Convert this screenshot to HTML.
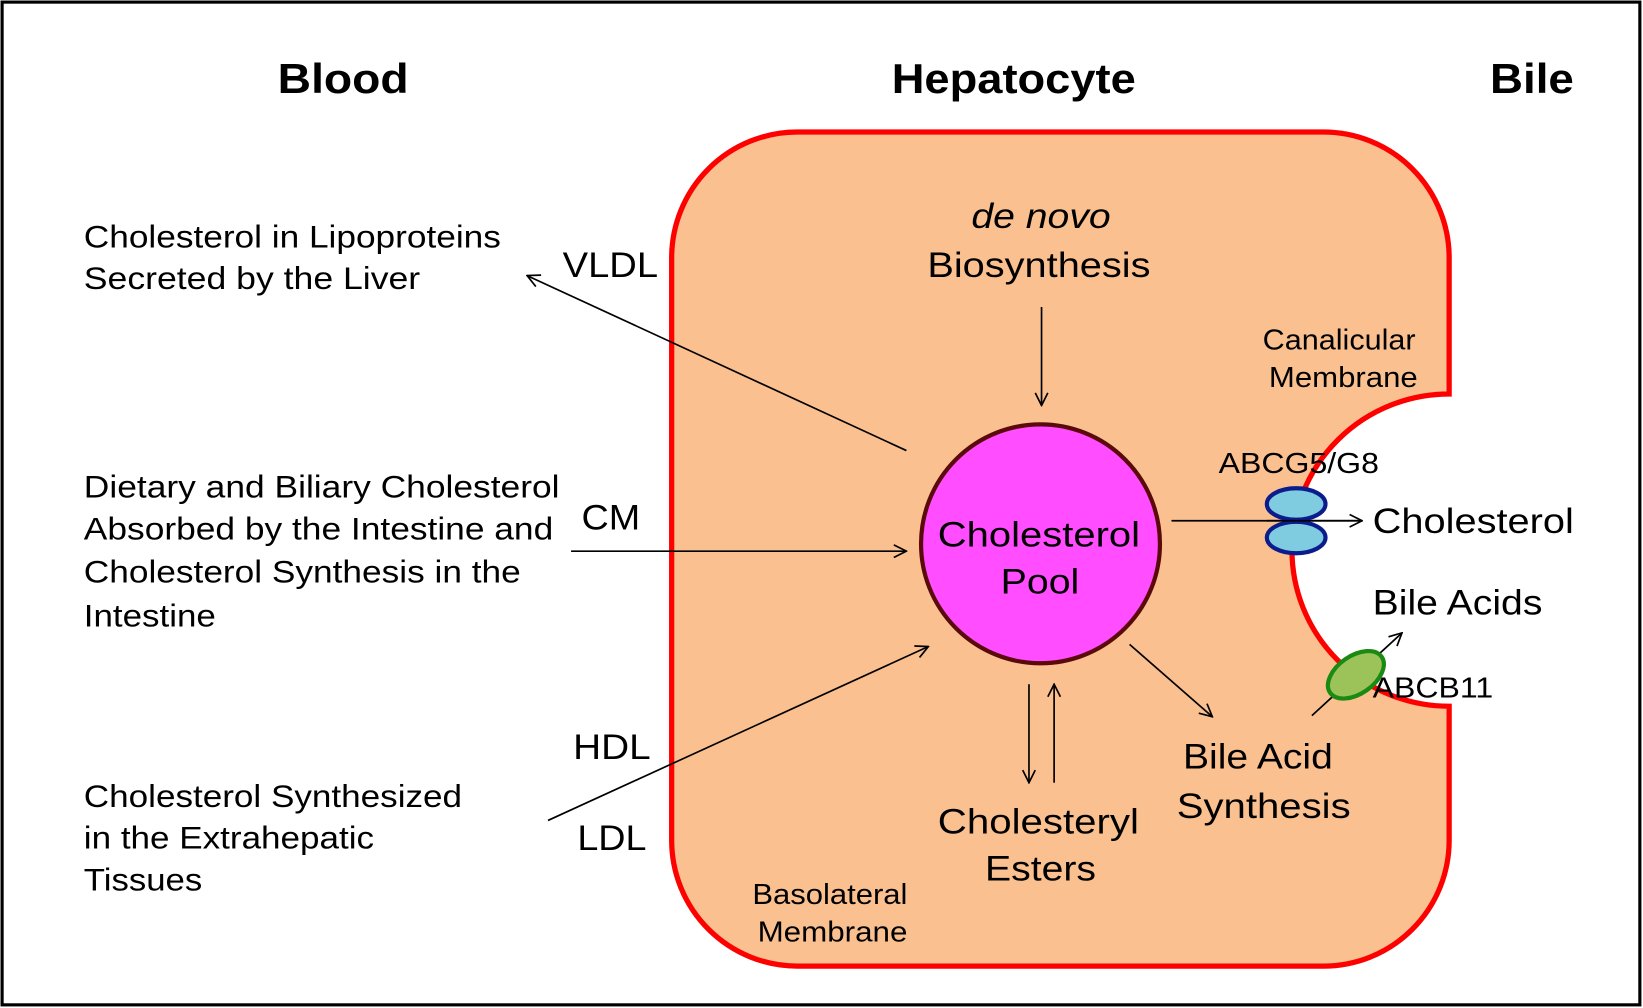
<!DOCTYPE html>
<html><head><meta charset="utf-8"><style>
html,body{margin:0;padding:0;background:#fff;}
svg{display:block;}
text{font-family:"Liberation Sans",Arial,sans-serif;fill:#000;}
</style></head><body>
<svg width="1643" height="1008" viewBox="0 0 1568 962" preserveAspectRatio="none" xmlns="http://www.w3.org/2000/svg">
<defs>
<marker id="a" viewBox="0 0 14 14" refX="13" refY="7" markerWidth="14" markerHeight="14" markerUnits="userSpaceOnUse" orient="auto">
<path d="M1,1 L13,7 L1,13" fill="none" stroke="#000" stroke-width="1.6"/>
</marker>
</defs>
<rect x="2" y="2" width="1563" height="957" fill="#fff" stroke="#000" stroke-width="3"/>
<path d="M761,126 H1263 A120,120 0 0 1 1383,246 V376 A150,149 0 0 0 1383,674 V802 A120,120 0 0 1 1263,922 H761 A120,120 0 0 1 641,802 V246 A120,120 0 0 1 761,126 Z" fill="#fac090" stroke="#ff0000" stroke-width="5"/>
<circle cx="993" cy="519" r="114" fill="#ff4dff" stroke="#5a0a0a" stroke-width="4"/>
<g stroke="#000" stroke-width="1.6" fill="none" marker-end="url(#a)">
<line x1="865" y1="430" x2="503" y2="263"/>
<line x1="545" y1="526" x2="865" y2="526"/>
<line x1="523" y1="783" x2="886" y2="617"/>
<line x1="994" y1="293" x2="994" y2="387"/>
<line x1="982" y1="653" x2="982" y2="747"/>
<line x1="1006" y1="747" x2="1006" y2="653"/>
<line x1="1078" y1="615" x2="1157" y2="684"/>
<line x1="1118" y1="497" x2="1300" y2="497"/>
<line x1="1252" y1="683" x2="1338" y2="604"/>
</g>
<ellipse cx="1237" cy="481" rx="28" ry="15" fill="#7fcbe0" stroke="#0b1c8c" stroke-width="4"/>
<ellipse cx="1237" cy="513" rx="28" ry="15" fill="#7fcbe0" stroke="#0b1c8c" stroke-width="4"/>
<line x1="1209" y1="497" x2="1300" y2="497" stroke="#000" stroke-width="1.6"/>
<ellipse cx="1294" cy="644" rx="30" ry="18" transform="rotate(-35 1294 644)" fill="#9bc35a" stroke="#1a8a12" stroke-width="4"/>
<g font-weight="bold" font-size="40" dominant-baseline="central">
<text x="265" y="75" textLength="125" lengthAdjust="spacingAndGlyphs">Blood</text>
<text x="851" y="75" textLength="233" lengthAdjust="spacingAndGlyphs">Hepatocyte</text>
<text x="1422" y="75" textLength="80" lengthAdjust="spacingAndGlyphs">Bile</text>
</g>
<g font-size="30" dominant-baseline="central" lengthAdjust="spacingAndGlyphs">
<text x="80" y="226" textLength="398" lengthAdjust="spacingAndGlyphs">Cholesterol in Lipoproteins</text>
<text x="80" y="266" textLength="321" lengthAdjust="spacingAndGlyphs">Secreted by the Liver</text>
<text x="80" y="465" textLength="454" lengthAdjust="spacingAndGlyphs">Dietary and Biliary Cholesterol</text>
<text x="80" y="505" textLength="448" lengthAdjust="spacingAndGlyphs">Absorbed by the Intestine and</text>
<text x="80" y="546" textLength="417" lengthAdjust="spacingAndGlyphs">Cholesterol Synthesis in the</text>
<text x="80" y="588" textLength="126" lengthAdjust="spacingAndGlyphs">Intestine</text>
<text x="80" y="760" textLength="361" lengthAdjust="spacingAndGlyphs">Cholesterol Synthesized</text>
<text x="80" y="800" textLength="277" lengthAdjust="spacingAndGlyphs">in the Extrahepatic</text>
<text x="80" y="840" textLength="113" lengthAdjust="spacingAndGlyphs">Tissues</text>
</g>
<g font-size="34" dominant-baseline="central">
<text x="537" y="253" textLength="91" lengthAdjust="spacingAndGlyphs">VLDL</text>
<text x="555" y="494" textLength="56" lengthAdjust="spacingAndGlyphs">CM</text>
<text x="547" y="713" textLength="74" lengthAdjust="spacingAndGlyphs">HDL</text>
<text x="551" y="800" textLength="66" lengthAdjust="spacingAndGlyphs">LDL</text>
<text x="927" y="206" font-style="italic" textLength="133" lengthAdjust="spacingAndGlyphs">de novo</text>
<text x="885" y="253" textLength="213" lengthAdjust="spacingAndGlyphs">Biosynthesis</text>
<text x="895" y="510" textLength="193" lengthAdjust="spacingAndGlyphs">Cholesterol</text>
<text x="955" y="555" textLength="75" lengthAdjust="spacingAndGlyphs">Pool</text>
<text x="1310" y="497" textLength="192" lengthAdjust="spacingAndGlyphs">Cholesterol</text>
<text x="1310" y="575" textLength="162" lengthAdjust="spacingAndGlyphs">Bile Acids</text>
<text x="1129" y="722" textLength="143" lengthAdjust="spacingAndGlyphs">Bile Acid</text>
<text x="1123" y="769" textLength="166" lengthAdjust="spacingAndGlyphs">Synthesis</text>
<text x="895" y="784" textLength="192" lengthAdjust="spacingAndGlyphs">Cholesteryl</text>
<text x="940" y="829" textLength="106" lengthAdjust="spacingAndGlyphs">Esters</text>
</g>
<g font-size="27" dominant-baseline="central">
<text x="1205" y="324" textLength="146" lengthAdjust="spacingAndGlyphs">Canalicular</text>
<text x="1211" y="360" textLength="142" lengthAdjust="spacingAndGlyphs">Membrane</text>
<text x="1163" y="442" textLength="153" lengthAdjust="spacingAndGlyphs">ABCG5/G8</text>
<text x="1310" y="656" textLength="115" lengthAdjust="spacingAndGlyphs">ABCB11</text>
<text x="718" y="853" textLength="148" lengthAdjust="spacingAndGlyphs">Basolateral</text>
<text x="723" y="889" textLength="143" lengthAdjust="spacingAndGlyphs">Membrane</text>
</g>
</svg>
</body></html>
